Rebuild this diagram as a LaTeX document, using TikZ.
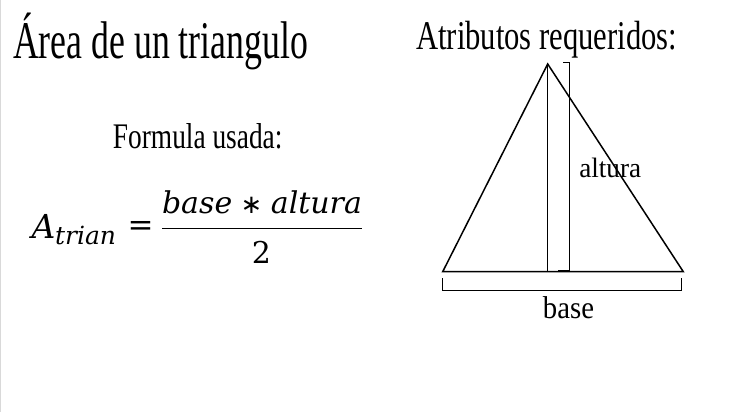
\documentclass[tikz,border=0pt]{standalone}
\usepackage{fontspec}
\usepackage{graphicx}
\setmainfont{Liberation Serif}
\newfontfamily\eqfont[ItalicFont={DejaVu Serif Italic}]{DejaVu Serif}
\newfontfamily\symfont{DejaVu Sans}
\newcommand{\sq}[3]{\scalebox{#2}[1]{\fontsize{#1}{#1}\selectfont #3}}
\begin{document}
\begin{tikzpicture}[x=1pt,y=-1pt,
  txt/.style={inner sep=0pt, outer sep=0pt},
  shapeline/.style={line width=1.5pt, line join=miter},
  bracketline/.style={line width=1pt}]
\useasboundingbox (0,0) rectangle (750,412);
\fill[white] (0,0) rectangle (750,412);
\draw[gray!30, line width=1pt] (0.5,0) -- (0.5,412);

% texts
\node[txt, anchor=base west] (title) at (13,58.3) {\sq{53}{0.675}{Área de un triangulo}};
\node[txt, anchor=base] (formula) at (197.7,148.3) {\sq{36}{0.76}{Formula usada:}};
\node[txt, anchor=base] (attr) at (546.7,50) {\sq{40.8}{0.75}{Atributos requeridos:}};

% equation
\node[txt, anchor=base west] (A) at (31.5,238.3) {\eqfont\itshape\fontsize{33}{33}\selectfont A};
\node[txt, anchor=base west] (sub) at (55,244) {\eqfont\itshape\fontsize{25}{25}\selectfont trian};
\node[txt] (eq) at (140.5,228.5) {\eqfont\fontsize{31}{31}\selectfont =};
\node[txt, anchor=base] (num) at (262,213) {\eqfont\itshape\fontsize{30}{30}\selectfont base\hspace{0.28em}{\symfont\upshape\fontsize{26}{26}\selectfont ∗}\hspace{0.28em}altura};
\node[txt, anchor=base] (den) at (261.5,263) {\eqfont\fontsize{30}{30}\selectfont 2};
\coordinate (barL) at (162,228.5);
\coordinate (barR) at (362,228.5);
\draw[line width=1.3pt] (barL) -- (barR);

% triangle
\coordinate (apex) at (547.7,64);
\coordinate (bl) at (442.7,271.7);
\coordinate (br) at (683.3,271.7);
\coordinate (foot) at (547.7,271.7);
\draw[shapeline] (bl) -- (apex) -- (br) -- cycle;
\draw[shapeline] (apex) -- (foot);

% height bracket
\coordinate (h1) at (563.3,62.7);
\coordinate (h2) at (569,62.7);
\coordinate (h3) at (569,270.2);
\coordinate (h4) at (558,270.2);
\draw[bracketline] (h1) -- (h2) -- (h3) -- (h4);

% base bracket
\coordinate (b1) at (442.7,278);
\coordinate (b2) at (442.7,290);
\coordinate (b3) at (681.7,290);
\coordinate (b4) at (681.7,278);
\draw[bracketline] (b1) -- (b2) -- (b3) -- (b4);

\node[txt, anchor=base west] (altura) at (579.3,177.3) {\sq{28}{0.97}{altura}};
\node[txt, anchor=base] (baselbl) at (568.5,318.3) {\sq{31.6}{0.91}{base}};
\end{tikzpicture}
\end{document}
